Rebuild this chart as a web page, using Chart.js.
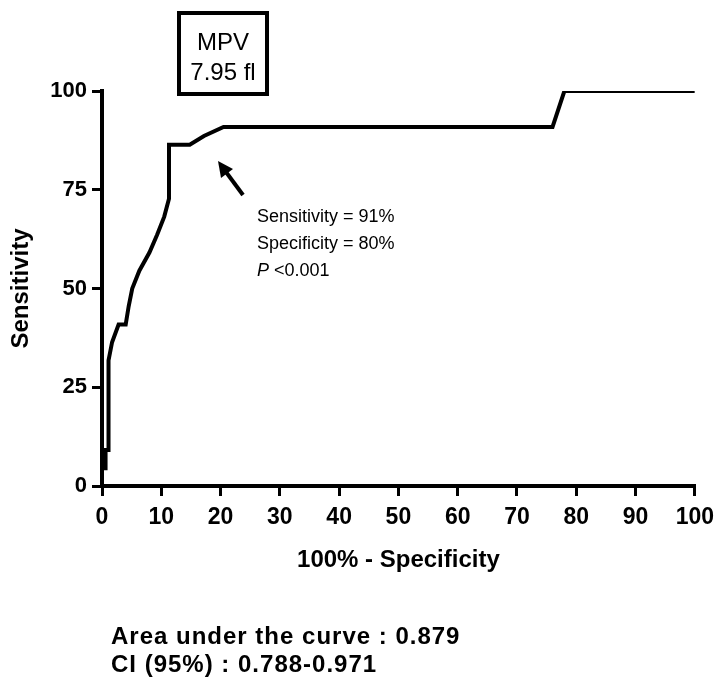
<!DOCTYPE html>
<html>
<head>
<meta charset="utf-8">
<script src="https://cdn.jsdelivr.net/npm/chart.js@4"></script>
<style>
body { margin: 0; background: #fff; }
</style>
</head>
<body>
<canvas id="canvas" width="722" height="685"></canvas>
<script>
// ROC curve for MPV (100% - specificity vs sensitivity)
var oneMinusSpec = [0, 0, 0.6, 0.6, 1.1, 1.1, 1.7, 2.8, 4.0, 4.5, 5.1, 6.3, 8.0, 9.3, 10.5, 11.3, 11.3, 14.8, 17.2, 20.5, 76.0, 78.0, 100];
var sensitivity  = [0, 4.5, 4.5, 9.1, 9.1, 31.8, 36.4, 40.9, 40.9, 45.5, 50.0, 54.5, 59.1, 63.6, 68.2, 72.7, 86.4, 86.4, 88.6, 90.9, 90.9, 100, 100];
var xTicks = [0, 10, 20, 30, 40, 50, 60, 70, 80, 90, 100];
var yTicks = [0, 25, 50, 75, 100];
var boxLines = ['MPV', '7.95 fl'];
var noteLines = ['Sensitivity = 91%', 'Specificity = 80%'];
var aucLines = ['Area under the curve : 0.879', 'CI (95%) : 0.788-0.971'];

var points = oneMinusSpec.map(function(x, i) {
    return { x: x, y: sensitivity[i] };
});

var fontFam = "'Liberation Sans', Arial, sans-serif";

var extras = {
    id: 'extras',
    afterDraw: function(chart) {
        var ctx = chart.ctx;
        ctx.save();
        ctx.fillStyle = '#000';
        ctx.strokeStyle = '#000';

        // MPV box
        ctx.lineWidth = 4;
        ctx.strokeRect(179, 13, 88, 81);
        ctx.font = '24px ' + fontFam;
        ctx.textAlign = 'center';
        ctx.textBaseline = 'middle';
        ctx.fillText(boxLines[0], 223, 43);
        ctx.fillText(boxLines[1], 223, 73);

        // arrow
        ctx.lineWidth = 4;
        ctx.beginPath();
        ctx.moveTo(243, 195);
        ctx.lineTo(226, 172);
        ctx.stroke();
        ctx.beginPath();
        ctx.moveTo(218, 161);
        ctx.lineTo(221, 178);
        ctx.lineTo(233, 169);
        ctx.closePath();
        ctx.fill();

        // note text
        ctx.textAlign = 'left';
        ctx.font = '18px ' + fontFam;
        ctx.fillText(noteLines[0], 257, 217);
        ctx.fillText(noteLines[1], 257, 244);
        ctx.font = 'italic 18px ' + fontFam;
        ctx.fillText('P', 257, 271);
        var pw = ctx.measureText('P ').width;
        ctx.font = '18px ' + fontFam;
        ctx.fillText('<0.001', 257 + pw, 271);

        // AUC text
        ctx.font = 'bold 24px ' + fontFam;
        ctx.letterSpacing = '1px';
        ctx.fillText(aucLines[0], 111, 637);
        ctx.fillText(aucLines[1], 111, 665);
        ctx.restore();
    }
};

var ctx = document.getElementById('canvas').getContext('2d');
var myChart = new Chart(ctx, {
    type: 'line',
    data: {
        datasets: [{
            data: points,
            borderColor: '#000',
            borderWidth: 4,
            pointRadius: 0,
            fill: false,
            tension: 0
        }]
    },
    plugins: [extras],
    options: {
        responsive: false,
        devicePixelRatio: 1,
        animation: false,
        layout: { padding: { top: 91, right: 25, bottom: 110, left: 0 } },
        plugins: {
            legend: { display: false },
            tooltip: { enabled: false }
        },
        scales: {
            x: {
                type: 'linear',
                min: 0,
                max: 100,
                afterBuildTicks: function(scale) {
                    scale.ticks = xTicks.map(function(v) { return { value: v }; });
                },
                afterFit: function(scale) { scale.height = 89; },
                grid: { drawOnChartArea: false, tickLength: 10, lineWidth: 3, color: '#000' },
                border: { width: 4, color: '#000' },
                ticks: {
                    color: '#000',
                    padding: 8,
                    maxRotation: 0,
                    font: { family: fontFam, size: 23, weight: 'bold' }
                },
                title: {
                    display: true,
                    text: '100% - Specificity',
                    color: '#000',
                    padding: 0,
                    font: { family: fontFam, size: 24, weight: 'bold' }
                }
            },
            y: {
                type: 'linear',
                min: 0,
                max: 100,
                afterBuildTicks: function(scale) {
                    scale.ticks = yTicks.map(function(v) { return { value: v }; });
                },
                afterFit: function(scale) { scale.width = 102; },
                grid: { drawOnChartArea: false, tickLength: 10, lineWidth: 3, color: '#000' },
                border: { width: 4, color: '#000' },
                ticks: {
                    color: '#000',
                    padding: 5,
                    font: { family: fontFam, size: 22, weight: 'bold' }
                },
                title: {
                    display: true,
                    text: 'Sensitivity',
                    color: '#000',
                    padding: { top: 7, bottom: 0 },
                    font: { family: fontFam, size: 24, weight: 'bold' }
                }
            }
        }
    }
});
</script>
</body>
</html>
